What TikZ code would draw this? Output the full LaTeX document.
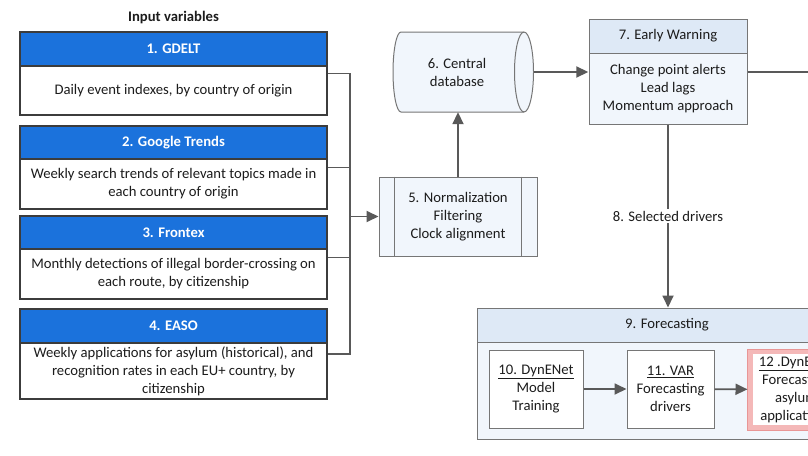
\documentclass[tikz,border=0pt]{standalone}
\usepackage{fontspec}
\setmainfont{Carlito}
\usetikzlibrary{arrows.meta,fit}
\definecolor{hdrblue}{RGB}{27,114,220}
\definecolor{edgec}{RGB}{60,60,60}
\definecolor{grayedge}{RGB}{118,118,118}
\definecolor{connc}{RGB}{89,89,89}
\definecolor{lb}{RGB}{241,246,252}
\definecolor{lbh}{RGB}{222,233,246}
\definecolor{txtc}{RGB}{28,28,28}
\definecolor{glowc}{RGB}{244,184,184}
\definecolor{glowin}{RGB}{232,150,150}
\begin{document}
\begin{tikzpicture}[x=1pt,y=-1pt,
  every node/.style={font=\fontsize{14.67}{18}\selectfont, text=txtc, align=center, inner sep=0pt},
  hdr/.style={draw=edgec, line width=1.1pt, fill=hdrblue, text=white,
     font=\fontsize{14.67}{18}\selectfont\bfseries, minimum width=307pt},
  bodyb/.style={draw=edgec, line width=1.1pt, fill=white, minimum width=307pt},
  procbox/.style={draw=grayedge, line width=1pt, fill=lb},
  headbox/.style={draw=grayedge, line width=1pt, fill=lbh},
  plainbox/.style={draw=grayedge, line width=1pt, fill=white},
  conn/.style={draw=connc, line width=1.8pt},
  arr/.style={conn, -{Triangle[length=12pt,width=11pt]}},
  grp/.style={inner sep=0pt, draw=none}
]
\useasboundingbox (0,0) rectangle (808,455);
\fill[white] (0,0) rectangle (808,455);
\clip (0,0) rectangle (808,455);

% title
\node[font=\fontsize{14.67}{18}\selectfont\bfseries] (title) at (173.5,18) {Input variables};

% input boxes
\node[hdr, minimum height=34pt] (h1) at (173.5,49) {1. GDELT};
\node[bodyb, minimum height=49pt] (b1) at (173.5,90.5) {Daily event indexes, by country of origin};
\node[hdr, minimum height=33pt] (h2) at (173.5,142.5) {2. Google Trends};
\node[bodyb, minimum height=50pt] (b2) at (173.5,184) {Weekly search trends of relevant topics made in\\each country of origin};
\node[hdr, minimum height=33pt] (h3) at (173.5,232.5) {3. Frontex};
\node[bodyb, minimum height=50pt] (b3) at (173.5,274) {Monthly detections of illegal border-crossing on\\each route, by citizenship};
\node[hdr, minimum height=34pt] (h4) at (173.5,326) {4. EASO};
\node[bodyb, minimum height=56pt] (b4) at (173.5,371) {Weekly applications for asylum (historical), and\\recognition rates in each EU+ country, by\\citizenship};
\node[grp, fit=(h1)(b1)] (g1) {};
\node[grp, fit=(h2)(b2)] (g2) {};
\node[grp, fit=(h3)(b3)] (g3) {};
\node[grp, fit=(h4)(b4)] (g4) {};

% 5 normalization
\node[procbox, minimum width=158pt, minimum height=79pt] (b5) at (458,216.5) {5. Normalization\\Filtering\\Clock alignment};
\draw[grayedge, line width=1pt] ([xshift=16pt]b5.north west) -- ([xshift=16pt]b5.south west);
\draw[grayedge, line width=1pt] ([xshift=-16pt]b5.north east) -- ([xshift=-16pt]b5.south east);

% bus
\coordinate (bus) at (350,216.5);
\draw[conn] (g1.east) -| (g4.east -| bus) -- (g4.east);
\draw[conn] (g2.east) -- (g2.east -| bus);
\draw[conn] (g3.east) -- (g3.east -| bus);
\draw[arr] (b5.west -| bus) -- (b5.west);

% 6 central database (cylinder)
\filldraw[fill=lb, draw=grayedge, line width=1pt]
  (401,32) -- (524,32) arc[start angle=90, end angle=-90, x radius=9.5pt, y radius=40pt]
  -- (401,112) arc[start angle=270, end angle=90, x radius=8pt, y radius=40pt] -- cycle;
\draw[grayedge, line width=1pt] (524,112) arc[start angle=-90, end angle=-270, x radius=9.5pt, y radius=40pt];
\node[grp, minimum width=141pt, minimum height=80pt] (cyl) at (463,72) {};
\node (t6) at (457,72) {6. Central\\database};
\draw[arr] (b5.north) -- (b5.north |- cyl.south);

% 7 early warning
\node[headbox, minimum width=158pt, minimum height=34pt] (h7) at (668,36) {7. Early Warning};
\node[procbox, minimum width=158pt, minimum height=71pt] (b7) at (668,88.5) {Change point alerts\\Lead lags\\Momentum approach};
\node[grp, fit=(h7)(b7)] (g7) {};
\draw[arr] (cyl.east) -- (cyl.east -| g7.west);
\coordinate (out7) at (815,72);
\draw[conn] (g7.east |- out7) -- (out7);

% 9 forecasting
\node[headbox, minimum width=380pt, minimum height=34pt] (h9) at (667,325) {9. Forecasting};
\node[procbox, minimum width=380pt, minimum height=97pt] (b9) at (667,390.5) {};
\draw[arr] (g7.south) -- (g7.south |- h9.north);
\node[fill=white, inner sep=2pt] (l8) at (668,216) {8. Selected drivers};

% 10, 11, 12
\node[plainbox, minimum width=94pt, minimum height=78pt] (b10) at (536,389) {\underline{10. DynENet}\\Model\\Training};
\node[plainbox, minimum width=87pt, minimum height=78pt] (b11) at (670.5,389) {\underline{11. VAR}\\Forecasting\\drivers};
\node[draw=glowc, line width=5pt, fill=white, minimum width=92pt, minimum height=76pt] (b12) at (796,389.5) {\underline{12 .DynENet}\\Forecasting\\asylum\\applications};
\draw[glowin, line width=0.8pt] (b12.north west) rectangle (b12.south east);
\draw[arr] (b10) -- (b11);
\draw[arr] (b11) -- (b12);
\end{tikzpicture}
\end{document}
